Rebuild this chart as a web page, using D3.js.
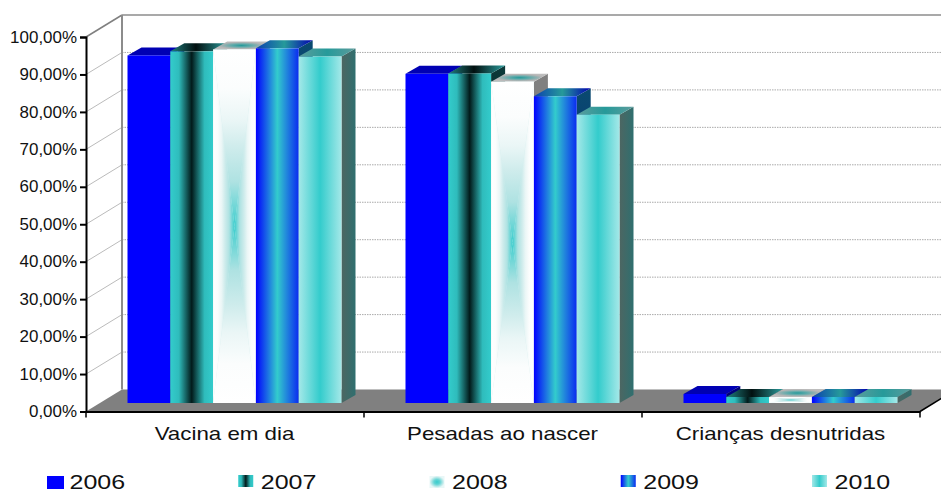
<!DOCTYPE html>
<html>
<head>
<meta charset="utf-8">
<script src="https://cdn.jsdelivr.net/npm/d3@7"></script>
<style>
  html, body { margin: 0; padding: 0; background: #fff; overflow: hidden; }
  svg { display: block; }
  text { font-family: "Liberation Sans", Arial, sans-serif; fill: #111; }
</style>
</head>
<body>
<div id="chart"></div>
<script>
const categories = ["Vacina em dia", "Pesadas ao nascer", "Crianças desnutridas"];
const years = ["2006", "2007", "2008", "2009", "2010"];
const values2006 = [92.8, 87.9, 2.4];
const values2007 = [93.9, 88.0, 1.6];
const values2008 = [94.4, 85.8, 1.6];
const values2009 = [94.7, 81.9, 1.6];
const values2010 = [92.5, 77.0, 1.6];
const seriesValues = [values2006, values2007, values2008, values2009, values2010];
const tickValues = [0, 10, 20, 30, 40, 50, 60, 70, 80, 90, 100];

const width = 941, height = 489;

// 3D offsets
const wallDx = 36, wallDy = -22;   // front plane to back wall
const barDx = 9.5, barDy = -8.5;   // front plane to front of the bars
const sideDx = 14, sideDy = -8;    // depth of one bar

const svg = d3.select('#chart').append('svg')
  .attr('width', width)
  .attr('height', height);

const y = d3.scaleLinear().domain([0, 100]).range([411.5, 37]);
const x0 = d3.scaleBand().domain(categories).range([86, 920]);
const x1 = d3.scaleBand().domain(years).range([0, 214]);
const groupPad = (x0.bandwidth() - 214) / 2;

const fmt = d => d.toFixed(2).replace('.', ',') + '%';

// GRADIENTS
const defs = svg.append('defs');

function linGrad(id, stops, vertical, reverse) {
  const g = defs.append('linearGradient').attr('id', id)
    .attr('x1', reverse && !vertical ? 1 : 0).attr('y1', reverse && vertical ? 1 : 0)
    .attr('x2', reverse ? 0 : (vertical ? 0 : 1)).attr('y2', reverse ? 0 : (vertical ? 1 : 0));
  stops.forEach(s => g.append('stop').attr('offset', s[0]).attr('stop-color', s[1]));
}

function radGrad(id, stops) {
  const g = defs.append('radialGradient').attr('id', id);
  stops.forEach(s => g.append('stop').attr('offset', s[0]).attr('stop-color', s[1]));
}

// 2008 is a rectangular gradient, white at the edges and teal in the middle
const stops2008 = [[0, '#ffffff'], [0.22, '#fbfdfd'], [0.4, '#eaf6f6'], [0.55, '#cfecec'], [0.75, '#aee2e2'], [0.92, '#62d4d4'], [1, '#38cccc']];
linGrad('g2008top', stops2008, true, false);
linGrad('g2008bottom', stops2008, true, true);
linGrad('g2008left', stops2008, false, false);
linGrad('g2008right', stops2008, false, true);

linGrad('front2007', [[0, '#33cccc'], [0.2, '#2fbcbc'], [0.5, '#021a1a'], [0.8, '#2fbcbc'], [1, '#33cccc']]);
linGrad('top2007', [[0, '#1f8080'], [0.45, '#021010'], [1, '#2a9c9c']]);
linGrad('side2007', [[0, '#0c3a3a'], [0.5, '#000'], [1, '#0c3a3a']], true);
radGrad('top2008', [[0, '#269a9a'], [0.35, '#5eaaaa'], [0.8, '#b5b5b5'], [1, '#bdbdbd']]);
linGrad('side2008', [[0, '#808080'], [1, '#808080']], true);
linGrad('front2009', [[0, '#0000ff'], [0.5, '#33cccc'], [1, '#0a2cf0']]);
linGrad('top2009', [[0, '#0a40b0'], [0.5, '#269a9a'], [1, '#0000b0']]);
linGrad('side2009', [[0, '#0a4a70'], [1, '#000a80']], true);
linGrad('front2010', [[0, '#a4e8e8'], [0.5, '#33cccc'], [1, '#a4e8e8']]);
linGrad('top2010', [[0, '#5c9c9c'], [0.5, '#269a9a'], [1, '#5c9c9c']]);
linGrad('side2010', [[0, '#4d6662'], [1, '#2f6f6f']]);
radGrad('swatch2008', [[0, '#38cccc'], [0.4, '#62d4d4'], [0.8, '#bfeaea'], [1, '#e8f7f7']]);

const frontFill = ['#0000ff', 'url(#front2007)', 'url(#swatch2008)', 'url(#front2009)', 'url(#front2010)'];
const topFill = ['#0000b3', 'url(#top2007)', 'url(#top2008)', 'url(#top2009)', 'url(#top2010)'];
const sideFill = ['#00007a', 'url(#side2007)', 'url(#side2008)', 'url(#side2009)', 'url(#side2010)'];

// WALLS AND FLOOR
const wall = svg.append('g').attr('class', 'walls');

wall.append('path')
  .attr('d', `M${x0.range()[0]},${y(0)} L${x0.range()[1]},${y(0)} L${x0.range()[1] + wallDx},${y(0) + wallDy} L${x0.range()[0] + wallDx},${y(0) + wallDy} Z`)
  .attr('fill', '#808080');

wall.selectAll('line.grid')
  .data(tickValues.slice(1))
  .enter().append('line')
  .attr('class', 'grid')
  .attr('x1', x0.range()[0] + wallDx)
  .attr('x2', width)
  .attr('y1', d => y(d) + wallDy)
  .attr('y2', d => y(d) + wallDy)
  .attr('stroke', d => d === 100 ? '#8c8c8c' : '#aaa')
  .attr('stroke-width', d => d === 100 ? 1.5 : 1)
  .attr('stroke-dasharray', d => d === 100 ? null : '1.5 1');

wall.selectAll('line.sidegrid')
  .data(tickValues.slice(1))
  .enter().append('line')
  .attr('class', 'sidegrid')
  .attr('x1', x0.range()[0])
  .attr('x2', x0.range()[0] + wallDx)
  .attr('y1', d => y(d))
  .attr('y2', d => y(d) + wallDy)
  .attr('stroke', d => d === 100 ? '#808080' : '#bbb')
  .attr('stroke-width', d => d === 100 ? 1.5 : 1);

wall.append('line')
  .attr('x1', x0.range()[0] + wallDx).attr('x2', x0.range()[0] + wallDx)
  .attr('y1', y(100) + wallDy).attr('y2', y(0) + wallDy)
  .attr('stroke', '#8c8c8c').attr('stroke-width', 2);

// BARS
const bars = svg.append('g').attr('class', 'bars');

categories.forEach((cat, c) => {
  years.forEach((year, s) => {
    const v = seriesValues[s][c];
    const bx = x0(cat) + groupPad + barDx + x1(year);
    const bw = x1.bandwidth();
    const top = y(v) + barDy, base = y(0) + barDy;
    const g = bars.append('g');

    g.append('path')
      .attr('d', `M${bx + bw},${top} L${bx + bw + sideDx},${top + sideDy} L${bx + bw + sideDx},${base + sideDy} L${bx + bw},${base} Z`)
      .attr('fill', sideFill[s]);
    g.append('path')
      .attr('d', `M${bx},${top} L${bx + sideDx},${top + sideDy} L${bx + bw + sideDx},${top + sideDy} L${bx + bw},${top} Z`)
      .attr('fill', topFill[s]);

    if (s === 2) {
      // four triangles meeting in the middle of the bar
      const cx = bx + bw / 2, cy = (top + base) / 2;
      g.append('rect')
        .attr('x', bx).attr('y', top)
        .attr('width', bw).attr('height', base - top)
        .attr('fill', '#d6eeee');
      const tris = [
        ['g2008top', [[bx, top], [bx + bw, top], [cx, cy]]],
        ['g2008bottom', [[bx, base], [bx + bw, base], [cx, cy]]],
        ['g2008left', [[bx, top], [bx, base], [cx, cy]]],
        ['g2008right', [[bx + bw, top], [bx + bw, base], [cx, cy]]]
      ];
      tris.forEach(t => {
        g.append('path')
          .attr('d', d3.line()(t[1]) + 'Z')
          .attr('fill', `url(#${t[0]})`);
      });
    } else {
      g.append('rect')
        .attr('x', bx).attr('y', top)
        .attr('width', bw).attr('height', base - top)
        .attr('fill', frontFill[s]);
    }
  });
});

// AXES
const yAxis = d3.axisLeft(y).tickValues(tickValues).tickFormat(fmt).tickSize(6).tickPadding(3);
const yG = svg.append('g')
  .attr('transform', `translate(${x0.range()[0]},0)`)
  .call(yAxis);
yG.selectAll('path, line').attr('stroke', '#000').attr('stroke-width', 2);
yG.selectAll('text')
  .attr('x', 0)
  .attr('font-size', 16)
  .attr('fill', '#111')
  .attr('transform', 'translate(-9,0) scale(1.06,1)');

const xG = svg.append('g')
  .attr('transform', `translate(0,${y(0)})`)
  .call(d3.axisBottom(x0).tickSize(0).tickFormat(''));
xG.selectAll('.tick').remove();
xG.select('.domain').attr('stroke', '#000').attr('stroke-width', 2);

// ticks sit between the categories
xG.selectAll('line.sep')
  .data(x0.domain().map(d => x0(d)).concat([x0.range()[1]]))
  .enter().append('line')
  .attr('class', 'sep')
  .attr('x1', d => d).attr('x2', d => d)
  .attr('y1', 0).attr('y2', 6)
  .attr('stroke', '#000').attr('stroke-width', 1.5);

svg.append('line')
  .attr('x1', x0.range()[1]).attr('y1', y(0))
  .attr('x2', x0.range()[1] + wallDx).attr('y2', y(0) + wallDy)
  .attr('stroke', '#000').attr('stroke-width', 1.5);

svg.append('g').selectAll('text')
  .data(categories)
  .enter().append('text')
  .attr('transform', d => `translate(${x0(d) + x0.bandwidth() / 2 - 0.5},440) scale(1.24,1)`)
  .attr('text-anchor', 'middle')
  .attr('font-size', 18)
  .text(d => d);

// LEGEND
const swatchX = d3.scalePoint().domain(years).range([47, 812]);
const legend = svg.append('g').selectAll('g')
  .data(years)
  .enter().append('g')
  .attr('transform', d => `translate(${swatchX(d)},0)`);

legend.append('rect')
  .attr('x', 0)
  .attr('y', (d, i) => i === 0 ? 476 : (i === 2 ? 476 : 475))
  .attr('width', (d, i) => i === 0 ? 17 : 15)
  .attr('height', (d, i) => i === 0 ? 13 : 12)
  .attr('fill', (d, i) => frontFill[i]);

legend.append('text')
  .attr('transform', 'translate(22.5,488.5) scale(1.25,1)')
  .attr('font-size', 20)
  .text(d => d);
</script>
</body>
</html>
